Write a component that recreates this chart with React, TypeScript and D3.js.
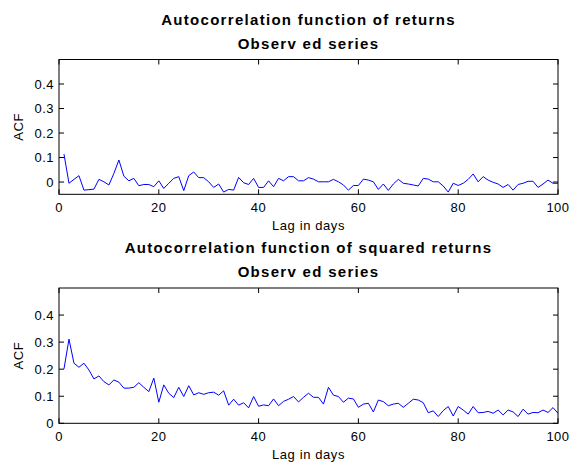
import React from "react";
import * as d3 from "d3";

const lags: number[] = d3.range(1, 101);
const acfReturns: number[] = [
  0.114, -0.005, 0.011, 0.026, -0.033, -0.031, -0.029, 0.011, 0.001, -0.012,
  0.035, 0.09, 0.024, 0.005, 0.015, -0.015, -0.01, -0.01, -0.019, 0.005,
  -0.026, -0.005, 0.015, 0.022, -0.035, 0.026, 0.041, 0.018, 0.018, 0.001,
  -0.022, -0.008, -0.041, -0.03, -0.033, 0.019, -0.003, -0.01, 0.015, -0.022,
  -0.022, 0.005, -0.019, 0.015, 0.005, 0.022, 0.022, 0.005, 0.005, 0.018,
  0.012, 0.001, 0.001, 0.001, 0.011, 0.001, -0.012, -0.033, -0.014, -0.014,
  0.012, 0.008, 0.001, -0.03, -0.008, -0.034, -0.008, 0.011, -0.005, -0.008,
  -0.012, -0.016, 0.015, 0.012, 0.001, 0.001, -0.016, -0.041, -0.005, -0.014,
  -0.005, 0.011, 0.033, 0.001, 0.022, 0.008, -0.001, -0.008, -0.022, -0.01,
  -0.033, -0.01, -0.005, 0.003, 0.003, -0.022, -0.008, 0.008, -0.005, -0.005,
];
const acfSquared: number[] = [
  0.201, 0.311, 0.222, 0.207, 0.222, 0.197, 0.164, 0.175, 0.154, 0.142,
  0.16, 0.152, 0.13, 0.13, 0.133, 0.15, 0.133, 0.117, 0.167, 0.078,
  0.142, 0.111, 0.095, 0.133, 0.099, 0.139, 0.105, 0.113, 0.107, 0.113,
  0.115, 0.104, 0.12, 0.067, 0.089, 0.067, 0.076, 0.057, 0.099, 0.063,
  0.068, 0.065, 0.09, 0.065, 0.081, 0.089, 0.099, 0.079, 0.096, 0.111,
  0.096, 0.096, 0.071, 0.133, 0.104, 0.099, 0.078, 0.093, 0.09, 0.059,
  0.071, 0.074, 0.042, 0.086, 0.08, 0.065, 0.071, 0.074, 0.059, 0.074,
  0.089, 0.086, 0.076, 0.039, 0.046, 0.025, 0.047, 0.062, 0.027, 0.062,
  0.049, 0.034, 0.062, 0.039, 0.04, 0.044, 0.037, 0.049, 0.031, 0.049,
  0.042, 0.025, 0.052, 0.034, 0.04, 0.039, 0.049, 0.04, 0.058, 0.037,
];
const xTicks: number[] = [0, 20, 40, 60, 80, 100];
const yTicks: number[] = [0, 0.1, 0.2, 0.3, 0.4];
const titlesTop: string[] = ["Autocorrelation function of returns", "Observ ed series"];
const titlesBottom: string[] = ["Autocorrelation function of squared returns", "Observ ed series"];
const xLabel = "Lag in days";
const yLabel = "ACF";

const FONT = "'Liberation Sans', Arial, Helvetica, sans-serif";

type PanelProps = {
  top: number;
  bottom: number;
  yDomain: [number, number];
  values: number[];
  titles: string[];
};

const LEFT = 59;
const RIGHT = 558;

function Panel({ top, bottom, yDomain, values, titles }: PanelProps) {
  const x = d3.scaleLinear().domain([0, 100]).range([LEFT, RIGHT]);
  const y = d3.scaleLinear().domain(yDomain).range([bottom, top]);
  const line = d3
    .line<number>()
    .x((_, i) => x(lags[i]))
    .y((d) => y(d));
  const cx = (LEFT + RIGHT) / 2;
  const tl = 5;
  return (
    <g>
      <text x={cx} y={top - 35} textAnchor="middle" fontFamily={FONT} fontWeight="bold" fontSize={15} letterSpacing={1.3} fill="#000">
        {titles[0]}
      </text>
      <text x={cx} y={top - 11} textAnchor="middle" fontFamily={FONT} fontWeight="bold" fontSize={15} letterSpacing={1.3} fill="#000">
        {titles[1]}
      </text>
      <rect x={LEFT} y={top} width={RIGHT - LEFT} height={bottom - top} fill="#fff" stroke="none" />
      <path d={line(values) || ""} fill="none" stroke="#0000ff" strokeWidth={1} />
      {xTicks.map((t) => (
        <g key={"x" + t}>
          <line x1={x(t)} x2={x(t)} y1={bottom} y2={bottom - tl} stroke="#000" />
          <line x1={x(t)} x2={x(t)} y1={top} y2={top + tl} stroke="#000" />
          <text x={x(t)} y={bottom + 18} textAnchor="middle" fontFamily={FONT} fontSize={13} letterSpacing={0.5} fill="#000">
            {t}
          </text>
        </g>
      ))}
      {yTicks.map((t) => (
        <g key={"y" + t}>
          <line x1={LEFT} x2={LEFT + tl} y1={y(t)} y2={y(t)} stroke="#000" />
          <line x1={RIGHT} x2={RIGHT - tl} y1={y(t)} y2={y(t)} stroke="#000" />
          <text x={LEFT - 5} y={y(t) + 4.5} textAnchor="end" fontFamily={FONT} fontSize={13} letterSpacing={0.5} fill="#000">
            {d3.format("~g")(t)}
          </text>
        </g>
      ))}
      <rect x={LEFT} y={top} width={RIGHT - LEFT} height={bottom - top} fill="none" stroke="#000" strokeWidth={1} />
      <text x={cx} y={bottom + 36} textAnchor="middle" fontFamily={FONT} fontSize={13} letterSpacing={0.6} fill="#000">
        {xLabel}
      </text>
      <text
        transform={`translate(${23},${(top + bottom) / 2}) rotate(-90)`}
        textAnchor="middle"
        fontFamily={FONT}
        fontSize={13}
        letterSpacing={0.5}
        fill="#000"
      >
        {yLabel}
      </text>
    </g>
  );
}

export default function App() {
  return (
    <svg width={571} height={466} style={{ display: "block", position: "absolute", left: 0, top: 0, background: "#fff" }}>
      <rect x={0} y={0} width={571} height={466} fill="#fff" />
      <Panel top={59.5} bottom={194.3} yDomain={[-0.05, 0.5]} values={acfReturns} titles={titlesTop} />
      <Panel top={288} bottom={423.3} yDomain={[0, 0.5]} values={acfSquared} titles={titlesBottom} />
    </svg>
  );
}
